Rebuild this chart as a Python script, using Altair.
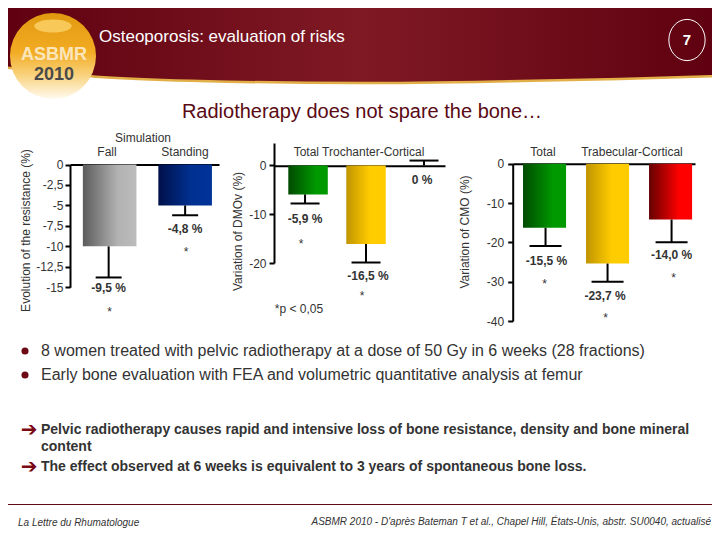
import altair as alt
import pandas as pd

FONT = "Liberation Sans"
INK = "#333333"
MAROON = "#6b0a14"
OX, OY = 8, 8  # page margin

# ---------- data ----------
fall_cats = ["Fall", "Standing"]
fall_vals = [-10.0, -5.0]
fall_errs = [-13.8, -6.2]
fall_labels = ["-9,5 %", "-4,8 %"]
fall_stars = ["*", "*"]

dmo_cats = ["Total", "Trochanter", "Cortical"]
dmo_vals = [-5.95, -16.1, 0.0]
dmo_errs = [-7.8, -19.9, 1.0]
dmo_labels = ["-5,9 %", "-16,5 %", "0 %"]
dmo_stars = ["*", "*", ""]

cmo_cats = ["Total", "Trabecular", "Cortical"]
cmo_vals = [-16.3, -25.4, -14.2]
cmo_errs = [-20.9, -30.0, -20.0]
cmo_labels = ["-15,5 %", "-23,7 %", "-14,0 %"]
cmo_stars = ["*", "*", "*"]

fall_ticks = [0, -2.5, -5, -7.5, -10, -12.5, -15]
dmo_ticks = [0, -10, -20]
cmo_ticks = [0, -10, -20, -30, -40]

curve_x = [0, 30, 100, 200, 360, 520, 620, 720]
curve_y = [67, 70, 77, 81, 83, 81, 79, 76]


def grad(*stops, x2=1, y2=0):
    return alt.LinearGradient(
        gradient="linear", x1=0, y1=0, x2=x2, y2=y2,
        stops=[alt.GradientStop(offset=o, color=c) for o, c in stops],
    )


GREY = grad((0, "#5c5c5c"), (0.65, "#b2b2b2"), (1, "#bcbcbc"))
NAVY = grad((0, "#00104a"), (0.6, "#003090"), (1, "#003399"))
GREEN = grad((0, "#004a00"), (0.7, "#009900"), (1, "#009900"))
GOLD = grad((0, "#c09400"), (0.6, "#ffcc00"), (1, "#ffcc00"))
RED = grad((0, "#640000"), (0.7, "#ff0000"), (1, "#ff0000"))


def page_text(s, x, y, size=12, color=INK, weight="normal", align="center", angle=0, style="normal", font=FONT):
    kw = {"angle": angle} if angle else {}
    return alt.Chart(alt.Data(values=[{"t": s}])).mark_text(
        font=font, fontSize=size, color=color, fontWeight=weight, align=align,
        baseline="middle", fontStyle=style, **kw,
    ).encode(x=alt.value(x - OX), y=alt.value(y - OY), text="t:N")


def panel(cats, vals, errs, labels, stars, ticks, ydomain, yrange, xrange, pi, po, al,
          axis_x, zero_y, tick_pad, title, title_x, title_y, fills, cap,
          stem_off, lab_off, star_off):
    df = pd.DataFrame({"c": cats, "v": vals, "e": errs, "l": labels, "s": stars})
    xs = alt.Scale(type="band", domain=cats, range=[a - OX for a in xrange],
                   paddingInner=pi, paddingOuter=po, align=al)
    ys = alt.Scale(domain=ydomain, range=[a - OY for a in yrange], nice=False, zero=False)
    X = alt.X("c:N", scale=xs, axis=None)
    Y = alt.Y("v:Q", scale=ys, axis=None, stack=None)
    layers = []
    for i, c in enumerate(cats):
        d = df[df.c == c]
        if fills[i] is not None:
            layers.append(alt.Chart(d).mark_bar(color=fills[i]).encode(x=X, y=Y, y2=alt.datum(0)))
        layers.append(alt.Chart(d).mark_rule(color="black", strokeWidth=2, xOffset=stem_off[i]).encode(
            x=X, y=Y, y2="e:Q"))
        layers.append(alt.Chart(d).mark_tick(color="black", thickness=2, size=cap, orient="horizontal",
                                             opacity=1, xOffset=stem_off[i]).encode(
            x=X, y=alt.Y("e:Q", scale=ys, axis=None)))
        dx, dy = lab_off[i]
        layers.append(alt.Chart(d).mark_text(font=FONT, fontSize=12, fontWeight="bold", color=INK,
                                             baseline="middle", dx=dx, dy=dy).encode(
            x=X, y=alt.Y("e:Q", scale=ys, axis=None), text="l:N"))
        if stars[i]:
            dx, dy = star_off[i]
            layers.append(alt.Chart(d).mark_text(font=FONT, fontSize=12, color=INK,
                                                 baseline="middle", dx=dx, dy=dy).encode(
                x=X, y=alt.Y("e:Q", scale=ys, axis=None), text="s:N"))
    # axes carried by an invisible layer
    layers.append(alt.Chart(df).mark_bar(opacity=0).encode(
        x=alt.X("c:N", scale=xs, axis=alt.Axis(
            orient="top", offset=-(zero_y - OY), labels=False, ticks=False, title=None, grid=False,
            domain=True, domainColor="black", domainWidth=2)),
        y=alt.Y("v:Q", scale=ys, stack=None, axis=alt.Axis(
            orient="left", offset=-(axis_x - OX), values=ticks, grid=False, domain=True, ticks=True,
            labelExpr="replace(toString(datum.value), '.', ',')",
            labelFont=FONT, labelFontSize=12, labelColor=INK, labelPadding=tick_pad,
            tickSize=5, tickWidth=2, tickColor="black", domainColor="black", domainWidth=2,
            title=title, titleFont=FONT, titleFontSize=12, titleFontWeight="normal", titleColor=INK,
            titleAngle=270, titleAlign="center", titleBaseline="middle",
            titleX=title_x - axis_x, titleY=title_y - OY)),
    ))
    return layers


# ---------- background ----------
bg_df = pd.DataFrame({"x": curve_x, "y": curve_y})
bx = alt.Scale(domain=[OX, 712], range=[0, 704])
by = alt.Scale(domain=[OY, 528], range=[0, 520])
header_fill = grad((0, "#5f0010"), (0.5, "#7f1a24"), (1, "#5f0010"))
bg = [
    alt.Chart(bg_df).mark_area(color=header_fill, interpolate="monotone", clip=True).encode(
        x=alt.X("x:Q", scale=bx, axis=None), y=alt.Y("y:Q", scale=by, axis=None), y2=alt.value(0)),
    alt.Chart(bg_df).mark_line(color="#e2ae48", strokeWidth=2.5, interpolate="monotone", clip=True).encode(
        x=alt.X("x:Q", scale=bx, axis=None), y=alt.Y("y:Q", scale=by, axis=None)),
]


def glyph(x, y, size, shape="circle", **kw):
    return alt.Chart(alt.Data(values=[{"t": 1}])).mark_point(shape=shape, filled=True, size=size, **kw).encode(
        x=alt.value(x - OX), y=alt.value(y - OY))


logo_fill = grad((0, "#e09a10"), (0.45, "#f2ab22"), (0.72, "#f9d27c"), (1, "#fffaf0"), x2=0, y2=1)
logo = glyph(53, 56, 7400, fill=logo_fill, opacity=1)
logo_hi = glyph(53, 26, 1400, shape="M-1,0 A1,0.35 0 1,1 1,0 A1,0.35 0 1,1 -1,0 Z", fill="#f8c858", opacity=1)
badge = alt.Chart(alt.Data(values=[{"t": 1}])).mark_point(
    shape="M-0.88,0 A0.88,1 0 1,1 0.88,0 A0.88,1 0 1,1 -0.88,0 Z",
    size=1700, stroke="white", strokeWidth=1, filled=False, opacity=1,
).encode(x=alt.value(687 - OX), y=alt.value(40 - OY))
dots = [glyph(25, 351, 50, fill=MAROON, opacity=1), glyph(25, 375, 50, fill=MAROON, opacity=1)]

texts = [
    page_text("Osteoporosis: evaluation of risks", 99, 37, size=17, color="white", align="left"),
    page_text("7", 687, 40, size=15, color="white", weight="bold"),
    page_text("ASBMR", 54, 55, size=18, color="#fbe6bc", weight="bold"),
    page_text("2010", 54, 75, size=18, color="#4a4a4a", weight="bold"),
    page_text("Radiotherapy does not spare the bone…", 362, 112, size=20, color="#5a0a14"),
    page_text("Simulation", 143, 138),
    page_text("Fall", 107, 152),
    page_text("Standing", 185, 152),
    page_text("Total Trochanter-Cortical", 359, 152),
    page_text("Total", 543, 152),
    page_text("Trabecular-Cortical", 632, 152),
    page_text("*p < 0,05", 299, 309),
    page_text("8 women treated with pelvic radiotherapy at a dose of 50 Gy in 6 weeks (28 fractions)", 41, 351, size=16, align="left"),
    page_text("Early bone evaluation with FEA and volumetric quantitative analysis  at femur", 41, 375, size=16, align="left"),
    page_text("➔", 29, 430, size=20, color="#7a0a14", font="DejaVu Sans"),
    page_text("Pelvic radiotherapy causes rapid and intensive loss of bone resistance, density and bone mineral", 41, 430, size=14, weight="bold", align="left"),
    page_text("content", 41, 447, size=14, weight="bold", align="left"),
    page_text("➔", 29, 467, size=20, color="#7a0a14", font="DejaVu Sans"),
    page_text("The effect observed at 6 weeks is equivalent to 3 years of spontaneous bone loss.", 41, 467, size=14, weight="bold", align="left"),
    page_text("La Lettre du Rhumatologue", 18, 523, size=10, style="italic", align="left"),
    page_text("ASBMR 2010 - D'après Bateman T et al., Chapel Hill, États-Unis, abstr. SU0040, actualisé", 711, 522, size=10, style="italic", align="right"),
]
foot_rule = alt.Chart(alt.Data(values=[{"t": 1}])).mark_rule(color="#5a0a14", strokeWidth=1).encode(
    x=alt.value(0), x2=alt.value(704), y=alt.value(504.5 - OY))

# ---------- panels ----------
p1 = panel(fall_cats, fall_vals, fall_errs, fall_labels, fall_stars, fall_ticks,
           [0, -15], [164.5, 287.3], [70, 219], 0.29, 0.132, 0.645, 70, 164.5, 2,
           "Evolution of the  resistance (%)", 25, 230, [GREY, NAVY], 26,
           [-1, 0], [(-1, 11), (0, 14)], [(0, 35), (1, 37)])
p2 = panel(dmo_cats, dmo_vals, dmo_errs, dmo_labels, dmo_stars, dmo_ticks,
           [4.6, -20], [143, 263], [274, 445], 0.319, 0.134, 0.92, 274, 165.7, 3,
           "Variation of  DMOv (%)", 237, 231, [GREEN, GOLD, None], 29,
           [-3, 0, 0], [(-3, 15.6), (2, 13.3), (-2, 19)], [(-7, 41), (-4, 33), (0, 0)])
p3 = panel(cmo_cats, cmo_vals, cmo_errs, cmo_labels, cmo_stars, cmo_ticks,
           [0, -40], [163.7, 321], [512.7, 695], 0.317, 0.105, 0.78, 512.7, 163.7, 4,
           "Variation of CMO (%)", 464, 231.5, [GREEN, GOLD, RED], 32,
           [1, 0, 1], [(2, 15), (-2.5, 14.3), (1, 12.3)], [(0, 38), (-2, 36), (3, 36)])

chart = alt.layer(*bg, logo, logo_hi, badge, foot_rule, *dots, *texts, *p1, *p2, *p3).resolve_scale(
    x="independent", y="independent"
).properties(
    width=704, height=520, padding=0, background="white",
    autosize=alt.AutoSizeParams(type="none"),
).configure_view(stroke=None)

chart.save("out.html", embed_options={"renderer": "svg", "actions": False})
